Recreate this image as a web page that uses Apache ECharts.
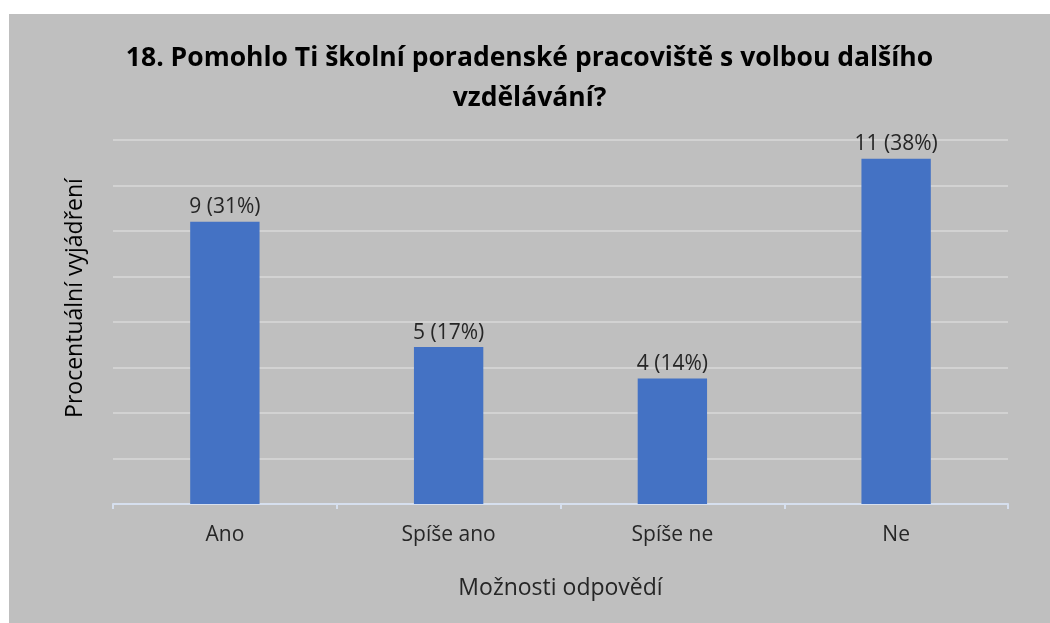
<!DOCTYPE html>
<html>
<head>
<meta charset="utf-8">
<script src="https://cdn.jsdelivr.net/npm/echarts@6/dist/echarts.min.js"></script>
<style>
  html, body { margin: 0; padding: 0; background: #fff; }
  #chart { position: absolute; left: 9px; top: 14px; width: 1041px; height: 609px; background: #bfbfbf; }
</style>
</head>
<body>
<div id="chart"></div>
<script>
// odpovedi a pocty
const categories = ['Ano', 'Spíše ano', 'Spíše ne', 'Ne'];
const counts = [9, 5, 4, 11];
const percents = [31.03, 17.24, 13.79, 37.93];
const yMax = 40;
const yStep = 5;

const chart = echarts.init(document.getElementById('chart'));
chart.setOption({
  animation: false,
  textStyle: { fontFamily: '"Open Sans", sans-serif' },
  title: {
    text: '18. Pomohlo Ti školní poradenské pracoviště s volbou dalšího\nvzdělávání?',
    left: 'center',
    top: 19,
    textStyle: {
      fontFamily: '"Open Sans", sans-serif',
      fontSize: 26.5,
      fontWeight: 'bold',
      color: '#000',
      lineHeight: 40
    }
  },
  grid: { left: 104, right: 42, top: 126, bottom: 119 },
  xAxis: {
    type: 'category',
    data: categories,
    name: 'Možnosti odpovědí',
    nameLocation: 'middle',
    nameGap: 73,
    nameTextStyle: { fontSize: 23, color: '#262626' },
    axisLine: { lineStyle: { color: '#d6dfee', width: 2 } },
    axisTick: { show: true, length: 5, lineStyle: { color: '#d6dfee', width: 2 } },
    axisLabel: { fontSize: 21, color: '#262626', margin: 21 }
  },
  yAxis: {
    type: 'value',
    min: 0,
    max: yMax,
    interval: yStep,
    name: 'Procentuální vyjádření',
    nameLocation: 'middle',
    nameGap: 26,
    // posunout popisek trochu nahoru
    nameTextStyle: { fontSize: 23, color: '#000', padding: [0, 0, 0, 48] },
    axisLabel: { show: false },
    axisLine: { show: false },
    axisTick: { show: false },
    splitLine: { lineStyle: { color: '#d9d9d9', width: 1.5 } }
  },
  series: [{
    type: 'bar',
    data: percents,
    barWidth: '31%',
    itemStyle: { color: '#4472c4' },
    label: {
      show: true,
      position: 'top',
      distance: 4,
      fontSize: 21,
      color: '#262626',
      formatter: p => counts[p.dataIndex] + ' (' + Math.round(p.value) + '%)'
    }
  }]
});
</script>
</body>
</html>
